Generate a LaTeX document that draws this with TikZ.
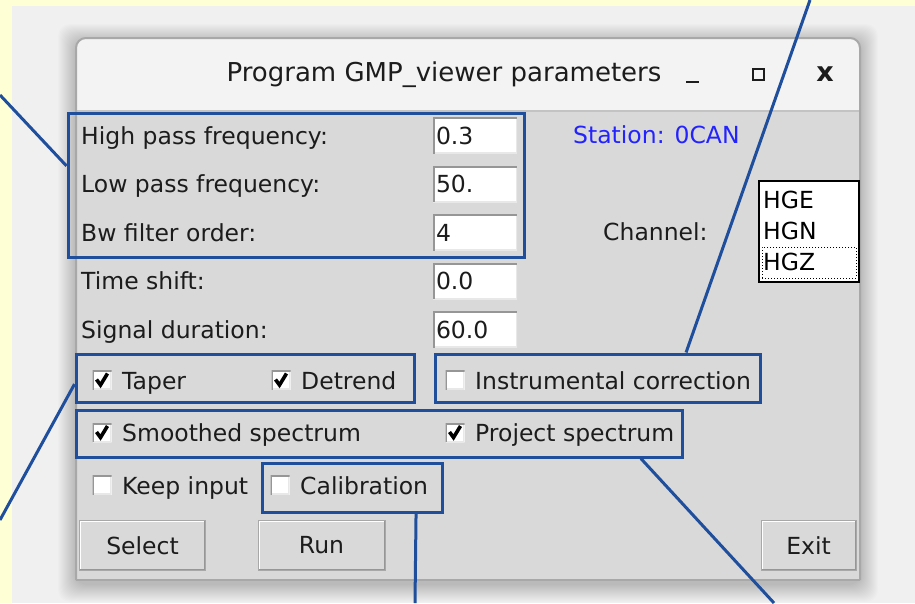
\documentclass[tikz,border=0pt]{standalone}
\usepackage{fontspec}
\setmainfont{DejaVu Sans}
\usetikzlibrary{calc}
\definecolor{paleyellow}{RGB}{255,255,214}
\definecolor{screengray}{RGB}{240,240,240}
\definecolor{titlegray}{RGB}{243,243,243}
\definecolor{wingray}{RGB}{217,217,217}
\definecolor{edgegray}{RGB}{168,168,168}
\definecolor{sepgray}{RGB}{195,195,195}
\definecolor{darkedge}{RGB}{150,150,150}
\definecolor{lightedge}{RGB}{232,232,232}
\definecolor{txtgray}{RGB}{28,28,28}
\definecolor{markblue}{RGB}{30,78,156}
\definecolor{stationblue}{RGB}{35,35,255}
\newcommand{\guifont}{\fontsize{23.5}{26}\selectfont}
\newcommand{\sunkenedge}{%
  \draw[line width=3pt,lightedge] (path picture bounding box.south west) -| (path picture bounding box.north east);
  \draw[line width=3pt,darkedge] (path picture bounding box.south west) |- (path picture bounding box.north east);}

\begin{document}
\begin{tikzpicture}[x=1pt,y=-1pt,
  lbl/.style={anchor=base west,inner sep=0pt,text=txtgray,font=\guifont},
  entry/.style={fill=white,text width=78pt,inner xsep=3pt,inner ysep=0pt,minimum height=36pt,
    align=left,text=txtgray,font=\guifont,path picture={\sunkenedge}},
  chk/.style={fill=white,minimum size=19pt,inner sep=0pt,path picture={\sunkenedge}},
  chkon/.style={chk,path picture={\sunkenedge
    \draw[line width=3.6pt,black,shift={(path picture bounding box.center)}] (-5.5,-0.5) -- (-1.5,5) -- (5.5,-6.5);}},
  btn/.style={fill=wingray,draw=edgegray,line width=1pt,minimum height=50pt,inner sep=0pt,
    text=txtgray,font=\guifont,
    path picture={\draw[line width=3pt,white] (path picture bounding box.south west) |- (path picture bounding box.north east);
                  \draw[line width=3pt,darkedge] (path picture bounding box.south west) -| (path picture bounding box.north east);}},
  hlbox/.style={draw=markblue,line width=3pt,inner sep=0pt},
  lead/.style={draw=markblue,line width=3pt}]
\useasboundingbox (0,0) rectangle (915,603);
\fill[paleyellow] (0,0) rectangle (915,603);
\fill[screengray] (12,6) rectangle (915,603); % screenshot area
\foreach \s in {1,...,18}
  \fill[black,opacity=0.011,rounded corners=12] (76-\s,42-\s) rectangle (860+\s,584+\s);
% window
\fill[titlegray,rounded corners=10] (76,38) rectangle (860,120);
\fill[wingray] (76,111) rectangle (860,580);
\draw[sepgray,line width=1.5pt] (76,111) -- (860,111);
\draw[edgegray,line width=2pt,rounded corners=10] (76,580) -- (76,38) -- (860,38) -- (860,580);
\draw[edgegray,line width=2pt] (860,580) -- (76,580);
\node[text=txtgray,font=\fontsize{26}{30}\selectfont,inner sep=0pt] (title) at (444,75) {Program GMP\_viewer parameters};
\draw[txtgray,line width=2.8pt] (686,82) -- (699,82); % minimise
\draw[txtgray,line width=2.6pt] (753,69) rectangle (764,80); % maximise
\node[text=txtgray,font=\fontsize{27}{30}\selectfont\bfseries,inner sep=0pt] (closex) at (825,74) {x};
% filter parameters
\node[lbl] (hpl) at (81,144) {High pass frequency:};
\node[entry] (hpe) at (475,135.5) {0.3};
\node[lbl] (lpl) at (81,192.5) {Low pass frequency:};
\node[entry] (lpe) at (475,184) {50.};
\node[lbl] (bwl) at (81,241) {Bw filter order:};
\node[entry] (bwe) at (475,232.5) {4};
\node[lbl] (tsl) at (81,289.5) {Time shift:};
\node[entry] (tse) at (475,281) {0.0};
\node[lbl] (sdl) at (81,338) {Signal duration:};
\node[entry] (sde) at (475,329.5) {60.0};
% station and channel list
\node[lbl,text=stationblue] (stn) at (573,143) {Station: 0CAN};
\node[lbl] (chn) at (603,240) {Channel:};
\node[draw=black,line width=2pt,fill=white,minimum width=100pt,minimum height=101pt,inner sep=0pt] (chlist) at (809,231.5) {};
\node[lbl,text=black] (hge) at (763,208) {HGE};
\node[lbl,text=black] (hgn) at (763,239) {HGN};
\node[lbl,text=black] (hgz) at (763,270) {HGZ};
\node[draw=black,dotted,line width=1pt,minimum width=94pt,minimum height=31pt,inner sep=0pt] (hgzfocus) at (809,262.5) {};
% check boxes
\node[chkon] (ctaper) at (102,380) {};
\node[lbl] (ttaper) at (122,389) {Taper};
\node[chkon] (cdet) at (281,380) {};
\node[lbl] (tdet) at (301,389) {Detrend};
\node[chk] (cinst) at (455,380) {};
\node[lbl] (tinst) at (475,389) {Instrumental correction};
\node[chkon] (csmo) at (102,432.5) {};
\node[lbl] (tsmo) at (122,441) {Smoothed spectrum};
\node[chkon] (cproj) at (455,432.5) {};
\node[lbl] (tproj) at (475,441) {Project spectrum};
\node[chk] (ckeep) at (102,485) {};
\node[lbl] (tkeep) at (122,494) {Keep input};
\node[chk] (ccal) at (280,485) {};
\node[lbl] (tcal) at (300,494) {Calibration};
% buttons
\node[btn,minimum width=126pt] (bsel) at (142.5,545.5) {Select};
\node[btn,minimum width=127pt] (brun) at (321.5,545.5) {Run};
\node[btn,minimum width=95pt] (bexit) at (808.5,545.5) {Exit};
% highlights
\node[hlbox,minimum width=456pt,minimum height=144pt] (filt) at (296,185) {};
\node[hlbox,minimum width=338pt,minimum height=48pt] (tapr) at (245,378) {};
\node[hlbox,minimum width=325pt,minimum height=48pt] (inst) at (597.5,378) {};
\node[hlbox,minimum width=606pt,minimum height=47pt] (spec) at (379,433.5) {};
\node[hlbox,minimum width=180pt,minimum height=49pt] (calb) at (352,487.5) {};
\coordinate (filtend) at (0,95);
\coordinate (taprend) at (0,520);
\coordinate (instend) at (810,0);
\coordinate (specend) at (774,603);
\coordinate (calbend) at (415,603);
\draw[lead] ($(filt.north west)!0.37!(filt.south west)$) -- (filtend);
\draw[lead] ($(tapr.north west)!0.62!(tapr.south west)$) -- (taprend);
\draw[lead] ($(inst.north west)!0.77!(inst.north east)$) -- (instend);
\draw[lead] ($(spec.south west)!0.93!(spec.south east)$) -- (specend);
\draw[lead] ($(calb.south west)!0.85!(calb.south east)$) -- (calbend);
\end{tikzpicture}
\end{document}
